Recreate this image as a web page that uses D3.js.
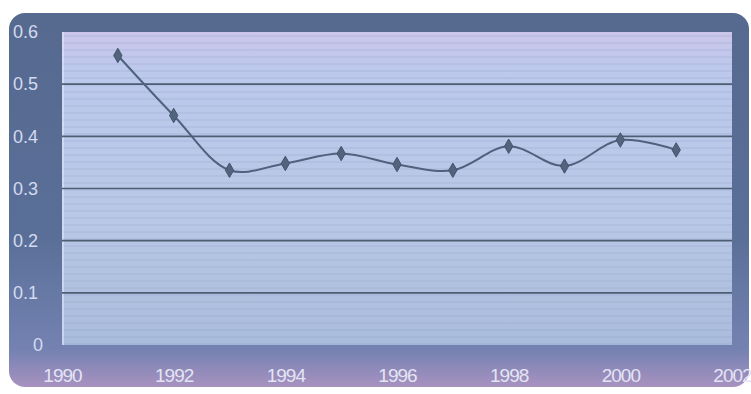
<!DOCTYPE html>
<html><head><meta charset="utf-8">
<script src="https://cdn.jsdelivr.net/npm/d3@7"></script>
<style>html,body{margin:0;padding:0;background:#fff;}svg{display:block;}</style>
</head><body>
<svg id="c" width="751" height="394"></svg>
<script>
const years = [1991,1992,1993,1994,1995,1996,1997,1998,1999,2000,2001];
const values = [0.555,0.44,0.335,0.348,0.367,0.346,0.335,0.381,0.343,0.393,0.374];
const xTicks = [1990,1992,1994,1996,1998,2000,2002];
const yTicks = [0,0.1,0.2,0.3,0.4,0.5,0.6];

const svg = d3.select("#c");
const defs = svg.append("defs");
const pg = defs.append("linearGradient").attr("id","panel").attr("x1",0).attr("y1",0).attr("x2",0).attr("y2",1);
pg.append("stop").attr("offset","0").attr("stop-color","#56698f");
pg.append("stop").attr("offset","0.6").attr("stop-color","#5a6f98");
pg.append("stop").attr("offset","0.9").attr("stop-color","#7482b2");
pg.append("stop").attr("offset","1").attr("stop-color","#a892c0");
const bg = defs.append("linearGradient").attr("id","plot").attr("x1",0).attr("y1",0).attr("x2",0).attr("y2",1);
bg.append("stop").attr("offset","0").attr("stop-color","#cbc6ea");
bg.append("stop").attr("offset","0.12").attr("stop-color","#bcc8ec");
bg.append("stop").attr("offset","0.6").attr("stop-color","#b8c8e6");
bg.append("stop").attr("offset","1").attr("stop-color","#aabcdc");
const pat = defs.append("pattern").attr("id","stripes").attr("width",8).attr("height",7).attr("patternUnits","userSpaceOnUse");
pat.append("rect").attr("width",8).attr("height",2).attr("fill","#8a9cc0").attr("opacity",0.18);

svg.append("rect").attr("x",9).attr("y",13).attr("width",740).attr("height",374).attr("rx",16).attr("fill","url(#panel)");

const L=62,R=732,T=32,B=345;
const x = d3.scaleLinear().domain([1990,2002]).range([L,R]);
const y = d3.scaleLinear().domain([0,0.6]).range([B,T]);

svg.append("rect").attr("x",L).attr("y",T).attr("width",R-L).attr("height",B-T).attr("fill","url(#plot)");
svg.append("rect").attr("x",L).attr("y",T).attr("width",R-L).attr("height",B-T).attr("fill","url(#stripes)");
svg.append("line").attr("x1",L+1).attr("x2",L+1).attr("y1",T).attr("y2",B).attr("stroke","#e8ecff").attr("stroke-width",1);

const grid = svg.append("g");
grid.selectAll("line").data(yTicks.filter(d=>d>0&&d<0.6)).join("line")
  .attr("x1",L).attr("x2",R).attr("y1",d=>y(d)).attr("y2",d=>y(d))
  .attr("stroke","#4d5d72").attr("stroke-width",1.6);

const yAxis = d3.axisLeft(y).tickValues(yTicks).tickSize(0).tickPadding(0).tickFormat(d=>d===0?"0":d3.format(".1f")(d));
const gy = svg.append("g").attr("transform",`translate(13,0)`).call(yAxis);
gy.select(".domain").remove();
gy.selectAll("text").attr("text-anchor","start").attr("x",d=>d===0?20:0).attr("fill","#d4daf0")
  .style("font-family","Liberation Sans, Arial, sans-serif").style("font-size","18px");

const xAxis = d3.axisBottom(x).tickValues(xTicks).tickSize(0).tickPadding(0).tickFormat(d3.format("d"));
const gx = svg.append("g").attr("transform",`translate(0,368)`).call(xAxis);
gx.select(".domain").remove();
gx.selectAll("text").attr("fill","#e4e4f4").attr("letter-spacing","-1px")
  .style("font-family","Liberation Sans, Arial, sans-serif").style("font-size","19px");

const data = years.map((yr,i)=>({yr,v:values[i]}));
const line = d3.line().x(d=>x(d.yr)).y(d=>y(d.v)).curve(d3.curveCatmullRom.alpha(0.5));
svg.append("path").datum(data).attr("d",line).attr("fill","none").attr("stroke","#4f617c").attr("stroke-width",2);
svg.append("g").selectAll("path").data(data).join("path")
  .attr("d",d3.symbol(d3.symbolDiamond,60))
  .attr("transform",d=>`translate(${x(d.yr)},${y(d.v)})`)
  .attr("fill","#52637e").attr("stroke","#44546c").attr("stroke-width",1);
</script>
</body></html>
